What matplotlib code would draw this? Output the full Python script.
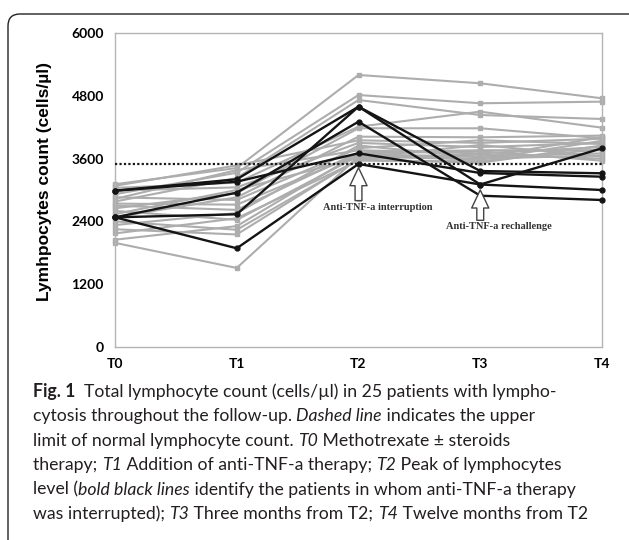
import matplotlib
matplotlib.use("Agg")
import matplotlib.pyplot as plt
from matplotlib.patches import FancyBboxPatch

timepoints = ["T0", "T1", "T2", "T3", "T4"]
y_ticks = [0, 1200, 2400, 3600, 4800, 6000]
upper_normal = 3500

# patients who continued anti-TNF-a (grey)
grey_patients = [
    [3110, 3420, 5198, 5039, 4752],
    [2920, 3330, 4815, 4657, 4688],
    [2780, 3230, 4720, 4433, 4357],
    [3040, 3140, 4210, 4497, 4191],
    [2650, 2940, 4180, 4179, 3990],
    [2480, 2860, 4019, 4007, 4040],
    [3080, 3470, 3950, 3900, 3980],
    [2990, 3050, 3900, 3820, 3900],
    [2860, 2810, 3800, 3950, 3880],
    [2830, 3380, 3760, 3700, 3820],
    [2700, 2620, 3720, 3760, 3760],
    [2740, 2720, 3680, 3640, 3700],
    [2600, 2430, 3650, 3580, 3940],
    [2540, 3000, 3620, 3860, 3640],
    [2400, 2240, 3580, 3520, 3850],
    [2330, 2560, 3850, 3620, 4010],
    [2250, 2150, 3600, 3680, 3600],
    [2170, 2460, 3560, 3550, 3780],
    [2050, 2310, 3700, 3740, 3560],
    [1990, 1510, 3640, 3600, 3660],
]

# patients in whom anti-TNF-a was interrupted (black)
black_patients = [
    [2987, 3205, 4592, 3363, 3319],
    [2478, 2536, 4592, 3105, 3797],
    [2478, 2949, 4305, 2891, 2809],
    [2987, 3159, 3701, 3325, 3254],
    [2478, 1886, 3497, 3105, 3000],
]

caption_lines = [
    [("Fig. 1", "b"), ("  Total lymphocyte count (cells/\u00b5l) in 25 patients with lympho-", "r")],
    [("cytosis throughout the follow-up. ", "r"), ("Dashed line", "i"), (" indicates the upper", "r")],
    [("limit of normal lymphocyte count. ", "r"), ("T0", "i"), (" Methotrexate \u00b1 steroids", "r")],
    [("therapy; ", "r"), ("T1", "i"), (" Addition of anti-TNF-a therapy; ", "r"), ("T2", "i"),
     (" Peak of lymphocytes", "r")],
    [("level (", "r"), ("bold black lines", "i"),
     (" identify the patients in whom anti-TNF-a therapy", "r")],
    [("was interrupted); ", "r"), ("T3", "i"), (" Three months from T2; ", "r"), ("T4", "i"),
     (" Twelve months from T2", "r")],
]

W, H = 629, 540
fig = plt.figure(figsize=(W / 100, H / 100), dpi=100)

# rounded frame around the figure
frame = FancyBboxPatch((8 / 100, -20 / 100), (W + 10) / 100, (H + 6) / 100,
                       boxstyle="round,pad=0,rounding_size=0.12",
                       transform=fig.dpi_scale_trans, fill=False,
                       ec="#222222", lw=1.0, clip_on=False)
fig.patches.append(frame)

ax = fig.add_axes([115 / W, 1 - 347 / H, (602 - 115) / W, (347 - 33) / H])
x = list(range(len(timepoints)))

for p in grey_patients:
    ax.plot(x, p, color="#adadad", lw=1.5, marker="s", ms=3, mec="#adadad",
            zorder=2, clip_on=False)
ax.axhline(upper_normal, color="#1a1a1a", ls=(0, (1, 1)), lw=1.6, zorder=3)
for p in black_patients:
    ax.plot(x, p, color="#141414", lw=1.7, marker="o", ms=3.5, zorder=4, clip_on=False)

ax.set_xlim(0, 4)
ax.set_ylim(0, 6000)
ax.set_xticks(x)
ax.set_xticklabels(timepoints)
ax.set_yticks(y_ticks)
ax.tick_params(length=0, pad=8)
for lab in ax.get_xticklabels() + ax.get_yticklabels():
    lab.set_family("Lato")
    lab.set_fontweight("bold")
    lab.set_fontsize(10)
for s in ax.spines.values():
    s.set_color("#b4b4b4")
    s.set_linewidth(1.0)

# arrows marking interruption (T2) and rechallenge (T3)
arrow_style = "simple,head_length=1.0,head_width=0.95,tail_width=0.38"
t2_low = min(p[2] for p in black_patients)
t3_low = min(p[3] for p in black_patients)
arrows = [(2, t2_low - 70, t2_low - 700), (3, t3_low + 110, t3_low - 470)]
for ax_x, tip, tail in arrows:
    # grey stem, then white arrow outline on top
    ax.plot([ax_x, ax_x], [tail, tip - 250], color="#8c8c8c", lw=3.5,
            solid_capstyle="butt", zorder=5)
    ax.annotate("", xy=(ax_x, tip), xytext=(ax_x, tail),
                arrowprops=dict(arrowstyle=arrow_style, fc="white", ec="#444444",
                                lw=1.0, mutation_scale=13, shrinkA=0, shrinkB=0),
                zorder=5)
ax.text(2.16, t2_low - 830, "Anti-TNF-a interruption", family="Liberation Serif",
        weight="bold", fontsize=7.5, ha="center", va="center", color="#333333")
ax.text(3.15, t3_low - 580, "Anti-TNF-a rechallenge", family="Liberation Serif",
        weight="bold", fontsize=7.5, ha="center", va="center", color="#333333")

fig.text(45 / W, 1 - 181 / H, "Lymhpocytes count (cells/\u00b5l)", rotation=90,
         family="Liberation Sans", weight="bold", fontsize=12.5,
         ha="center", va="center")

# caption with mixed styles
styles = {"b": dict(weight="bold"), "r": dict(), "i": dict(style="italic")}
renderer = fig.canvas.get_renderer()
y0 = 392
for i, line in enumerate(caption_lines):
    xp = 33
    for txt, st in line:
        t = fig.text(xp / W, 1 - (y0 + i * 24.4) / H, txt, family="Lato",
                     fontsize=12.7, va="center", ha="left", color="#231f20", **styles[st])
        xp += t.get_window_extent(renderer).width

fig.savefig("out.png", dpi=100)
